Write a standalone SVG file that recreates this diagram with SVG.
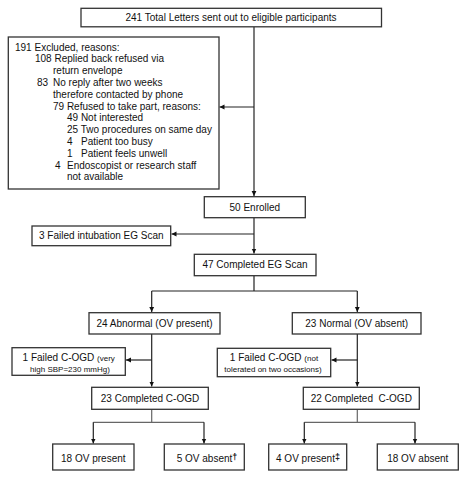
<svg xmlns="http://www.w3.org/2000/svg" width="466" height="480" viewBox="0 0 466 480">
<style>
.box{fill:#fff;stroke:#333;stroke-width:1.3}
.t{font-family:"Liberation Sans",Arial,sans-serif;font-size:10px;fill:#111}
.c{text-anchor:middle}
.s{font-size:8px}
.ln{fill:none;stroke:#222;stroke-width:1.2}
.g{fill:none;stroke:#666;stroke-width:1.2}
.sup{font-weight:bold;font-size:9px}
</style>
<defs>
<marker id="ah" markerUnits="userSpaceOnUse" markerWidth="6" markerHeight="6" refX="5" refY="3" orient="auto">
<path d="M0,0.6 L5,3 L0,5.4 Z" fill="#111"/>
</marker>
</defs>
<rect width="466" height="480" fill="#fff"/>
<g id="connectors">
<path class="ln" d="M254,27 V196" marker-end="url(#ah)"/>
<path class="ln" d="M254,107 H219.5" marker-end="url(#ah)"/>
<path class="ln" d="M254,218 V253.5" marker-end="url(#ah)"/>
<path class="ln" d="M254,234 H171.5" marker-end="url(#ah)"/>
<path class="ln" d="M254,276 V291 M151.7,291 H357.3"/>
<path class="ln" d="M151.7,291 V312" marker-end="url(#ah)"/>
<path class="ln" d="M357.3,291 V312" marker-end="url(#ah)"/>
<path class="ln" d="M151.7,334 V386.5" marker-end="url(#ah)"/>
<path class="ln" d="M151.7,360 H126" marker-end="url(#ah)"/>
<path class="ln" d="M357.3,334 V386.5" marker-end="url(#ah)"/>
<path class="ln" d="M357.3,360 H331.5" marker-end="url(#ah)"/>
<path class="g" d="M151.7,409.3 V422.3 M93.3,422.3 H204"/>
<path class="ln" d="M93.3,422.3 V443.5" marker-end="url(#ah)"/>
<path class="ln" d="M204,422.3 V443.5" marker-end="url(#ah)"/>
<path class="g" d="M357.3,409.3 V422.3 M304.3,422.3 H415"/>
<path class="ln" d="M304.3,422.3 V443.5" marker-end="url(#ah)"/>
<path class="ln" d="M415,422.3 V443.5" marker-end="url(#ah)"/>
</g>
<g id="total">
<rect class="box" x="81" y="8.3" width="300.5" height="18.5"/>
<text class="t c" x="231" y="21.3">241 Total Letters sent out to eligible participants</text>
</g>
<g id="excluded">
<rect class="box" x="8.3" y="37" width="210.7" height="152"/>
<text class="t" x="15" y="50.5">191 Excluded, reasons:</text>
<text class="t" x="35" y="62.3">108 Replied back refused via</text>
<text class="t" x="53" y="74.1">return envelope</text>
<text class="t" x="37" y="85.9">83</text><text class="t" x="53" y="85.9">No reply after two weeks</text>
<text class="t" x="53" y="97.7">therefore contacted by phone</text>
<text class="t" x="53" y="109.5">79 Refused to take part, reasons:</text>
<text class="t" x="67" y="121.3">49 Not interested</text>
<text class="t" x="67" y="133.1">25 Two procedures on same day</text>
<text class="t" x="67" y="144.9">4</text><text class="t" x="81" y="144.9">Patient too busy</text>
<text class="t" x="67" y="156.7">1</text><text class="t" x="81" y="156.7">Patient feels unwell</text>
<text class="t" x="55" y="168.5">4</text><text class="t" x="67" y="168.5">Endoscopist or research staff</text>
<text class="t" x="67" y="180.3">not available</text>
</g>
<g id="enrolled">
<rect class="box" x="204.3" y="196.7" width="101" height="21"/>
<text class="t c" x="254.8" y="210.5">50 Enrolled</text>
</g>
<g id="failed-intubation">
<rect class="box" x="32" y="226" width="138.7" height="19.7"/>
<text class="t c" x="101.3" y="239">3 Failed intubation EG Scan</text>
</g>
<g id="completed-eg">
<rect class="box" x="194.3" y="254.3" width="121.7" height="21.4"/>
<text class="t c" x="255" y="268.3">47 Completed EG Scan</text>
</g>
<g id="abnormal">
<rect class="box" x="89" y="312.7" width="131" height="21.3"/>
<text class="t c" x="154.5" y="326.7">24 Abnormal (OV present)</text>
</g>
<g id="normal">
<rect class="box" x="292.3" y="312.7" width="128.7" height="21.3"/>
<text class="t c" x="356.7" y="326.7">23 Normal (OV absent)</text>
</g>
<g id="failed-cogd-left">
<rect class="box" x="12" y="347.7" width="113.3" height="27.6"/>
<text class="t c" x="68.7" y="361.3">1 Failed C-OGD <tspan class="s">(very</tspan></text>
<text class="t c s" x="70" y="372">high SBP=230 mmHg)</text>
</g>
<g id="failed-cogd-right">
<rect class="box" x="217.3" y="348.3" width="113.4" height="28.4"/>
<text class="t c" x="274" y="361.3">1 Failed C-OGD <tspan class="s">(not</tspan></text>
<text class="t c s" x="273" y="372.3">tolerated on two occasions)</text>
</g>
<g id="completed-cogd-left">
<rect class="box" x="91.7" y="387.3" width="116.6" height="22"/>
<text class="t c" x="150" y="401.7">23 Completed C-OGD</text>
</g>
<g id="completed-cogd-right">
<rect class="box" x="303.3" y="387.3" width="116" height="22"/>
<text class="t c" x="361.3" y="401.7" xml:space="preserve">22 Completed  C-OGD</text>
</g>
<g id="ov-present-left">
<rect class="box" x="52.7" y="444" width="81.3" height="26"/>
<text class="t c" x="93.3" y="461.5">18 OV present</text>
</g>
<g id="ov-absent-left">
<rect class="box" x="164.3" y="444" width="80" height="26"/>
<text class="t c" x="207" y="461.5">5 OV absent<tspan class="sup" dy="-2">†</tspan></text>
</g>
<g id="ov-present-right">
<rect class="box" x="268.7" y="444" width="78" height="26"/>
<text class="t c" x="308" y="461.5">4 OV present<tspan class="sup" dy="-2">‡</tspan></text>
</g>
<g id="ov-absent-right">
<rect class="box" x="377.3" y="444" width="81" height="26"/>
<text class="t c" x="417.8" y="461.5">18 OV absent</text>
</g>
</svg>
